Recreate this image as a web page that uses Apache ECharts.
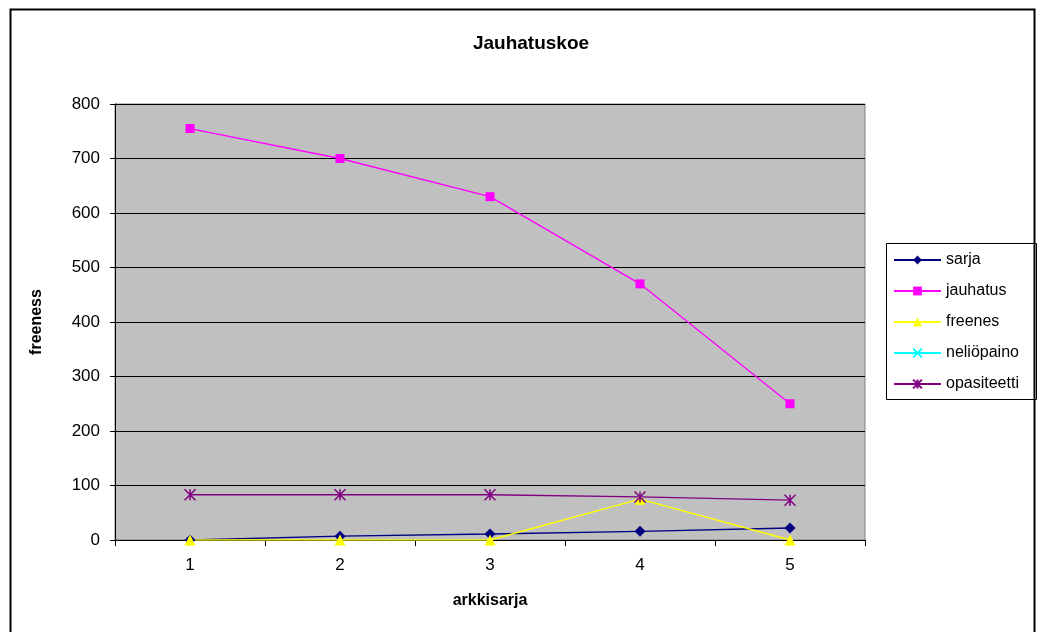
<!DOCTYPE html>
<html>
<head>
<meta charset="utf-8">
<script src="https://cdn.jsdelivr.net/npm/echarts@6/dist/echarts.min.js"></script>
<style>
  html, body { margin: 0; padding: 0; background: #fff; }
  #chart { width: 1039px; height: 632px; }
</style>
</head>
<body>
<div id="chart"></div>
<script>
// data
var categories = ['1', '2', '3', '4', '5'];
var sarja = [0, 7, 11, 16, 22];
var jauhatus = [755, 700, 630, 470, 250];
var freenes = [0, 0, 0, 75, 0];
var neliopaino = [null, null, null, null, null];
var opasiteetti = [83, 83, 83, 79, 73];

var font = 'Liberation Sans, Arial, sans-serif';
var xMark = 'path://M0,0L10,10M10,0L0,10';
var starMark = 'path://M0,0L10,10M10,0L0,10M5,0L5,10';

var chart = echarts.init(document.getElementById('chart'));

function lineSeries(name, values, color, symbol, size, stroke) {
  return {
    name: name,
    type: 'line',
    data: values,
    symbol: symbol,
    symbolSize: size,
    lineStyle: { color: color, width: 1.3 },
    itemStyle: stroke
      ? { color: color, borderColor: color, borderWidth: 1.5 }
      : { color: color, borderWidth: 0 },
    emphasis: { disabled: true },
    animation: false
  };
}

chart.setOption({
  backgroundColor: '#fff',
  textStyle: { fontFamily: font },
  title: {
    text: 'Jauhatuskoe',
    left: 526,
    textAlign: 'center',
    top: 29,
    textStyle: { fontSize: 19, fontWeight: 'bold', color: '#000', fontFamily: font }
  },
  graphic: [
    {
      type: 'rect',
      shape: { x: 10.5, y: 9.5, width: 1024, height: 640 },
      style: { fill: 'none', stroke: '#000', lineWidth: 2 },
      silent: true
    },
    {
      // legend frame
      type: 'rect',
      shape: { x: 886.5, y: 243.5, width: 150, height: 156 },
      style: { fill: 'none', stroke: '#000', lineWidth: 1 },
      silent: true
    }
  ],
  legend: {
    orient: 'vertical',
    left: 887,
    top: 243,
    itemWidth: 47,
    itemHeight: 11,
    itemGap: 15,
    padding: [9, 6, 7, 6],
    textStyle: { fontSize: 16, lineHeight: 14, color: '#000', fontFamily: font },
    data: ['sarja', 'jauhatus', 'freenes', 'neliöpaino', 'opasiteetti']
  },
  grid: {
    left: 115,
    top: 104,
    width: 750,
    height: 436,
    show: true,
    backgroundColor: '#C0C0C0',
    borderColor: '#808080',
    borderWidth: 1
  },
  xAxis: {
    type: 'category',
    data: categories,
    boundaryGap: true,
    name: 'arkkisarja',
    nameLocation: 'middle',
    nameGap: 53,
    nameTextStyle: { fontSize: 16, fontWeight: 'bold', color: '#000', fontFamily: font },
    axisLine: { lineStyle: { color: '#000', width: 1 } },
    axisTick: { show: true, alignWithLabel: false, length: 6, lineStyle: { color: '#000' } },
    axisLabel: { fontSize: 17, color: '#000', margin: 17, fontFamily: font },
    splitLine: { show: false }
  },
  yAxis: {
    type: 'value',
    min: 0,
    max: 800,
    interval: 100,
    name: 'freeness',
    nameLocation: 'middle',
    nameGap: 70,
    nameTextStyle: { fontSize: 16, fontWeight: 'bold', color: '#000', fontFamily: font },
    axisLine: { show: true, lineStyle: { color: '#000', width: 1 } },
    axisTick: { show: true, length: 5, lineStyle: { color: '#000' } },
    axisLabel: { fontSize: 17, color: '#000', margin: 15, fontFamily: font },
    splitLine: { show: true, lineStyle: { color: '#000', width: 1 } }
  },
  series: [
    lineSeries('sarja', sarja, '#000080', 'diamond', 11, false),
    lineSeries('jauhatus', jauhatus, '#FF00FF', 'rect', 9, false),
    lineSeries('freenes', freenes, '#FFFF00', 'triangle', 11, false),
    lineSeries('neliöpaino', neliopaino, '#00FFFF', xMark, 10, true),
    lineSeries('opasiteetti', opasiteetti, '#800080', starMark, 11, true)
  ]
});
</script>
</body>
</html>
